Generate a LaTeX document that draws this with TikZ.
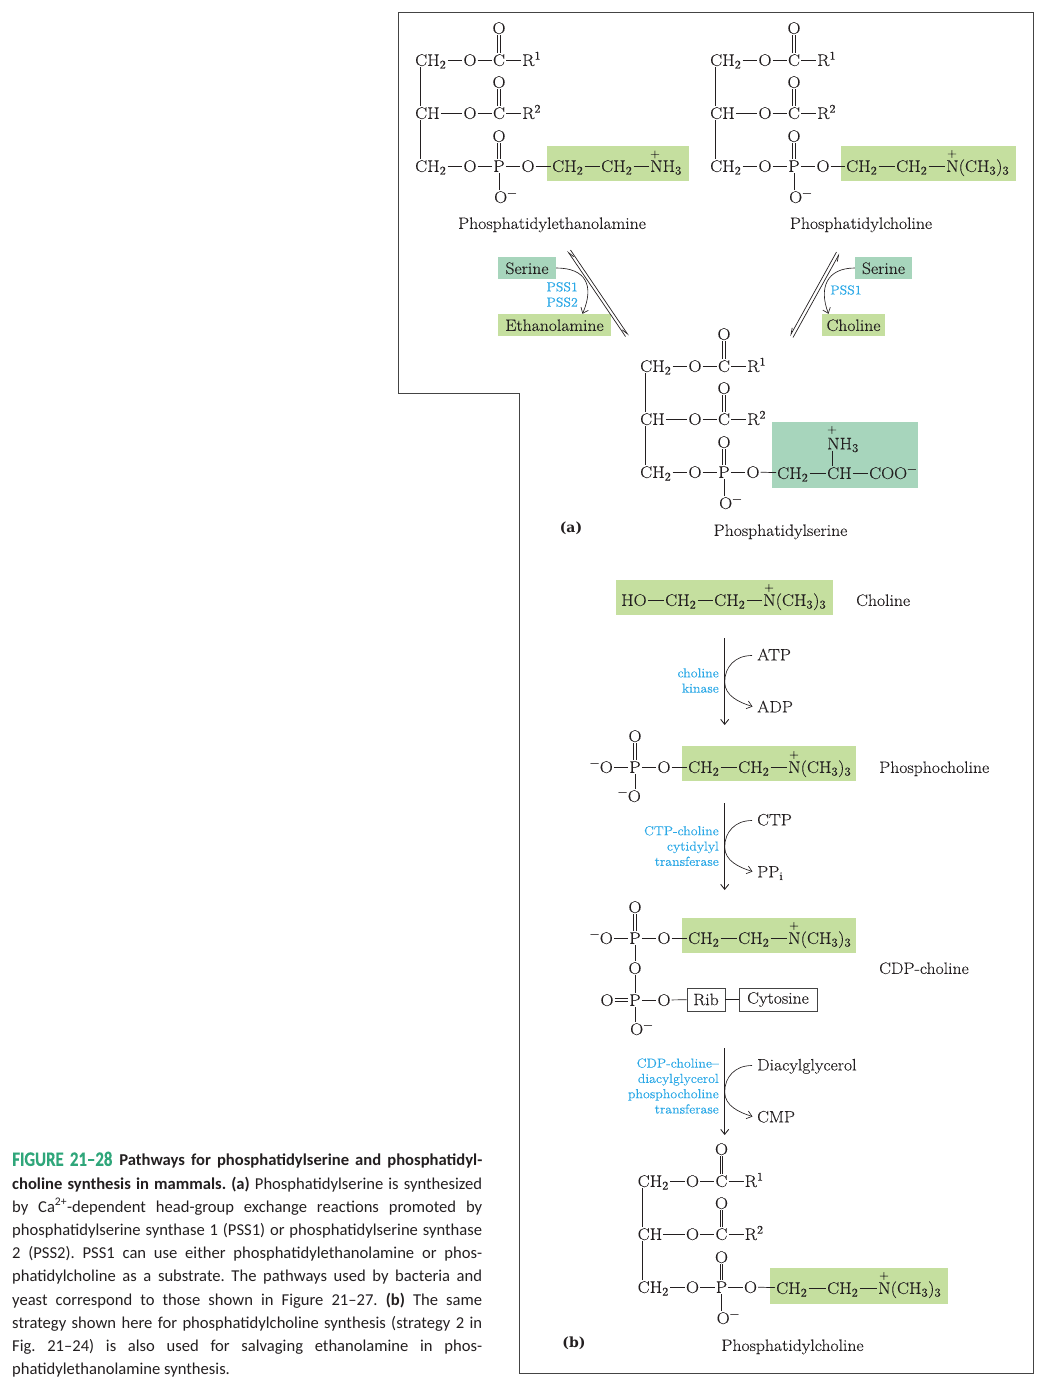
\documentclass[tikz,border=0pt]{standalone}
\usepackage{fontspec}
\usepackage{tikz}
\usetikzlibrary{arrows.meta}
\newfontfamily\chemfont[FakeStretch=1.07,FakeBold=0.22]{Latin Modern Roman}
\newfontfamily\partfont{DejaVu Serif}
\newfontfamily\capfont{Carlito}
\newfontfamily\figfont[FakeStretch=0.82,FakeBold=0.4]{Carlito}
\definecolor{ink}{HTML}{231F20}
\definecolor{headgreen}{HTML}{C5DF9F}
\definecolor{headteal}{HTML}{A7D5BC}
\definecolor{enzblue}{HTML}{2BA8E6}
\definecolor{figgreen}{HTML}{2FA67A}
\definecolor{framegray}{HTML}{444444}
\newcommand{\subs}[1]{\textsubscript{#1}}
\newcommand{\sups}[1]{\textsuperscript{#1}}

% double bond between an atom and the oxygen above it
\newcommand{\upbond}[2]{
\draw[bond] ([xshift=-1.3pt]#1.north) -- ([xshift=-1.3pt]#2.south);
\draw[bond] ([xshift=1.3pt]#1.north) -- ([xshift=1.3pt]#2.south);
}

% glycerol backbone with two acyl chains and the phosphate
\newcommand{\lipidcore}[3]{
\begin{scope}[shift={(#2,#3)}]
\node[atom,anchor=west] (#1ca) at (-1,0) {CH\subs{2}};
\node[atom] (#1oa) at (55,0) {O};
\node[atom] (#1ea) at (84,0) {C};
\node[atom] (#1ka) at (84,-32) {O};
\node[atom,anchor=west] (#1ra) at (106,0) {R\sups{1}};
\node[atom,anchor=west] (#1cb) at (-1,53) {CH};
\node[atom] (#1ob) at (55,53) {O};
\node[atom] (#1eb) at (84,53) {C};
\node[atom] (#1kb) at (84,22) {O};
\node[atom,anchor=west] (#1rb) at (106,53) {R\sups{2}};
\node[atom,anchor=west] (#1cc) at (-1,106) {CH\subs{2}};
\node[atom] (#1oc) at (55,106) {O};
\node[atom] (#1pc) at (84,106) {P};
\node[atom] (#1kc) at (84,76) {O};
\node[atom] (#1od) at (113,106) {O};
\node[atom,anchor=west] (#1om) at (78,137) {O\sups{\textminus}};
\end{scope}
\draw[bond] ([xshift=6pt]#1ca.south west) -- ([xshift=6pt]#1cb.north west);
\draw[bond] ([xshift=6pt]#1cb.south west) -- ([xshift=6pt]#1cc.north west);
\draw[bond] (#1ca) -- (#1oa);
\draw[bond] (#1oa) -- (#1ea);
\draw[bond] (#1ea) -- (#1ra);
\draw[bond] (#1cb) -- (#1ob);
\draw[bond] (#1ob) -- (#1eb);
\draw[bond] (#1eb) -- (#1rb);
\draw[bond] (#1cc) -- (#1oc);
\draw[bond] (#1oc) -- (#1pc);
\draw[bond] (#1pc) -- (#1od);
\draw[bond] (#1pc.south) -- (#1om.north -| #1pc);
\upbond{#1ea}{#1ka}
\upbond{#1eb}{#1kb}
\upbond{#1pc}{#1kc}
}

% CH2-CH2-N(CH3)3 chain
\newcommand{\cholinechain}[4]{
\node[atom,anchor=west] (#1a) at (#2,#3) {CH\subs{2}};
\node[atom,anchor=west] (#1b) at (#2+#4,#3) {CH\subs{2}};
\node[atom,anchor=west] (#1n) at (#2+2*#4,#3) {N(CH\subs{3})\subs{3}};
\node[plusmark] (#1q) at (#2+2*#4+7,#3-12) {+};
\draw[bond] (#1a) -- (#1b);
\draw[bond] (#1b) -- (#1n);
}

% free phosphate on the left of a chain
\newcommand{\phosphoryl}[2]{
\node[atom,anchor=east] (#1ol) at (614,#2) {\sups{\textminus}O};
\node[atom] (#1p) at (635,#2) {P};
\node[atom] (#1ok) at (635,#2-31) {O};
\node[atom] (#1or) at (664,#2) {O};
\draw[bond] (#1ol) -- (#1p);
\draw[bond] (#1p) -- (#1or);
\draw[bond] (#1or) -- (#1a);
\upbond{#1p}{#1ok}
}

% reaction arrow with a side substrate and a side product
\newcommand{\sidearrow}[4]{
\coordinate (#1s) at (724.7,#2);
\coordinate (#1e) at (724.7,#2+87);
\coordinate (#1m) at (724.7,#2+44);
\node[plainname,anchor=west] (#1i) at (756,#2+16.5) {#3};
\node[plainname,anchor=west] (#1o) at (756,#2+68.5) {#4};
\draw[arrowline] (#1s) -- (#1e);
\draw[sideline] ([xshift=-4pt,yshift=-1pt]#1i.west) .. controls +(-17,0) and +(0,-15) .. (#1m)
    .. controls +(0,14) and +(-13,-4) .. ([xshift=-3.5pt]#1o.west);
}

\begin{document}
\begin{tikzpicture}[x=1pt,y=-1pt,ink]
\tikzstyle{atom} = [font=\chemfont\fontsize{16.8}{20}\selectfont,text height=11.8pt,text depth=0pt,inner sep=1pt,text=ink]
\tikzstyle{plusmark} = [font=\chemfont\fontsize{12}{12}\selectfont,inner sep=0pt,text=ink]
\tikzstyle{plainname} = [font=\chemfont\fontsize{16.5}{20}\selectfont,text height=11.8pt,text depth=0pt,inner sep=1pt,text=ink]
\tikzstyle{enzyme} = [font=\chemfont\fontsize{13}{15.3}\selectfont,text=enzblue,align=right,inner sep=0pt]
\tikzstyle{groupbox} = [font=\chemfont\fontsize{16.5}{20}\selectfont,text height=11.8pt,text depth=0pt,inner sep=0pt,text=ink]
\tikzstyle{partname} = [font=\partfont\bfseries\fontsize{14}{20}\selectfont,inner sep=0pt,text=ink]
\tikzstyle{bond} = [line width=0.7pt,draw=ink]
\tikzstyle{arrowline} = [line width=0.85pt,draw=ink,-{Straight Barb[length=5pt,width=8pt]}]
\tikzstyle{sideline} = [line width=0.65pt,draw=ink,-{Straight Barb[length=5pt,width=8pt]}]
\tikzstyle{harpoon} = [line width=0.7pt,draw=ink,-{Straight Barb[right,length=6pt,width=4pt]}]
\tikzstyle{ribbox} = [draw=framegray,line width=0.8pt,fill=white,minimum height=23pt,inner sep=0pt,font=\chemfont\fontsize{16.5}{20}\selectfont,text=ink]
\useasboundingbox (0,0) rectangle (1045,1390);

%frame of both panels
\draw[framegray,line width=0.9pt] (398,12) -- (1033,12) -- (1033,1373) -- (519,1373) -- (519,393) -- (398,393) -- cycle;

%head group fills
\fill[headgreen] (547,146) rectangle (689,181);
\fill[headgreen] (841,146) rectangle (1016,181);
\fill[headteal] (772,422) rectangle (918,488);
\fill[headgreen] (616,580) rectangle (833,615);
\fill[headgreen] (682,746) rectangle (856,781);
\fill[headgreen] (682,918) rectangle (856,953);
\fill[headgreen] (770,1268) rectangle (948,1304);

%phosphatidylethanolamine
\lipidcore{pe}{415}{60}
\node[atom,anchor=west] (pea) at (551,166) {CH\subs{2}};
\node[atom,anchor=west] (peb) at (600,166) {CH\subs{2}};
\node[atom,anchor=west] (pen) at (649,166) {NH\subs{3}};
\node[plusmark] (peq) at (655,154.5) {+};
\draw[bond] (peod) -- (pea);
\draw[bond] (pea) -- (peb);
\draw[bond] (peb) -- (pen);
\node[plainname] (pename) at (552,223) {Phosphatidylethanolamine};

%phosphatidylcholine, top
\lipidcore{pc}{710}{60}
\cholinechain{pch}{845}{166}{50}
\draw[bond] (pcod) -- (pcha);
\node[plainname] (pcname) at (861,223) {Phosphatidylcholine};

%exchange reactions
\node[groupbox,fill=headteal,minimum width=58pt,minimum height=22pt] (serl) at (527,268) {Serine};
\node[groupbox,fill=headgreen,minimum width=113pt,minimum height=22pt] (etn) at (554.5,325) {Ethanolamine};
\node[groupbox,fill=headteal,minimum width=57pt,minimum height=22pt] (serr) at (883.5,268) {Serine};
\node[groupbox,fill=headgreen,minimum width=63pt,minimum height=22pt] (cho) at (853.5,325) {Choline};
\coordinate (la) at (567.5,251);
\coordinate (lb) at (625.5,336.5);
\coordinate (lc) at (570.5,250);
\coordinate (ld) at (628.5,335.5);
\coordinate (ra) at (836.5,252);
\coordinate (rb) at (790,336);
\coordinate (rc) at (839.5,253.5);
\coordinate (rd) at (793,337.5);
\draw[harpoon] (lb) -- (la);
\draw[harpoon] (lc) -- (ld);
\draw[harpoon] (rd) -- (rc);
\draw[harpoon] (ra) -- (rb);
\draw[sideline] (serl.east) .. controls +(30,0) and +(12,-28) .. ([xshift=28pt]etn.north);
\draw[sideline] (serr.west) .. controls +(-28,0) and +(-10,-26) .. ([xshift=-25pt]cho.north);
\node[enzyme,anchor=east] (pssl) at (578,294.5) {PSS1\\PSS2};
\node[enzyme] (pssr) at (846,290) {PSS1};

%phosphatidylserine
\lipidcore{ps}{640}{366}
\node[atom,anchor=west] (psa) at (776,473) {CH\subs{2}};
\node[atom,anchor=west] (psb) at (826,473) {CH};
\node[atom,anchor=west] (psc) at (868,473) {COO\sups{\textminus}};
\node[atom,anchor=west] (psn) at (826,443.5) {NH\subs{3}};
\node[plusmark] (psq) at (832,430) {+};
\draw[bond] (psod) -- (psa);
\draw[bond] (psa) -- (psb);
\draw[bond] (psb) -- (psc);
\draw[bond] ([xshift=6pt]psn.south west) -- ([xshift=6pt]psb.north west);
\node[plainname] (psname) at (780.5,530) {Phosphatidylserine};
\node[partname] (parta) at (571,528) {(a)};

%choline
\node[atom,anchor=west] (hoh) at (620,600) {HO};
\cholinechain{ch}{664}{600}{49}
\draw[bond] (hoh) -- (cha);
\node[plainname,anchor=west] (chname) at (855,600) {Choline};

\sidearrow{ka}{638}{ATP}{ADP}
\node[enzyme,anchor=east] (kaz) at (719,680.5) {choline\\kinase};

%phosphocholine
\cholinechain{pk}{687}{767}{50}
\phosphoryl{pk}{767}
\node[atom,anchor=east] (pkom) at (642,796) {\sups{\textminus}O};
\draw[bond] (pkp.south) -- (pkom.north -| pkp);
\node[plainname,anchor=west] (pkname) at (878,767) {Phosphocholine};

\sidearrow{ct}{803}{CTP}{PP\subs{i}}
\node[enzyme,anchor=east] (ctz) at (719,846) {CTP-choline\\cytidylyl\\transferase};

%CDP-choline
\cholinechain{cd}{687}{938}{50}
\phosphoryl{cd}{938}
\node[atom] (cdob) at (635,968) {O};
\node[atom] (cdo) at (607,1000) {O};
\node[atom] (cdq) at (635,1000) {P};
\node[atom] (cdr) at (664,1000) {O};
\node[atom,anchor=west] (cdm) at (629,1029) {O\sups{\textminus}};
\node[ribbox,minimum width=38pt] (rib) at (706,999.5) {Rib};
\node[ribbox,minimum width=78pt] (cyt) at (778,999.5) {Cytosine};
\draw[bond] (cdp) -- (cdob);
\draw[bond] (cdob) -- (cdq);
\draw[bond] ([yshift=-1.3pt]cdo.east) -- ([yshift=-1.3pt]cdq.west);
\draw[bond] ([yshift=1.3pt]cdo.east) -- ([yshift=1.3pt]cdq.west);
\draw[bond] (cdq) -- (cdr);
\draw[bond] (cdr) -- (rib);
\draw[bond] (rib) -- (cyt);
\draw[bond] (cdq.south) -- (cdm.north -| cdq);
\node[plainname,anchor=west] (cdname) at (878,968) {CDP-choline};

\sidearrow{dg}{1048}{Diacylglycerol}{CMP}
\node[enzyme,anchor=east] (dgz) at (719,1086) {CDP-choline–\\diacylglycerol\\phosphocholine\\transferase};

%phosphatidylcholine, bottom
\lipidcore{pd}{637.5}{1181}
\cholinechain{pdh}{775}{1288}{51}
\draw[bond] (pdod) -- (pdha);
\node[plainname] (pdname) at (792.5,1345) {Phosphatidylcholine};
\node[partname] (partb) at (574,1343) {(b)};

%legend text
\node[anchor=north west,text width=470pt,align=justify,inner sep=0pt,text=ink,font=\capfont\frenchspacing\fontsize{16.6}{23.2}\selectfont] (legend) at (12,1151.5) {%
{\figfont\bfseries\fontsize{20.5}{23.2}\selectfont\color{figgreen}FIGURE 21–28}\hspace{7pt}\textbf{Pathways for phosphatidylserine and phosphatidyl-}\linebreak
\textbf{choline synthesis in mammals. (a)} Phosphatidylserine is synthesized\linebreak
by Ca\textsuperscript{2+}-dependent head-group exchange reactions promoted by\linebreak
phosphatidylserine synthase 1 (PSS1) or phosphatidylserine synthase\linebreak
2 (PSS2). PSS1 can use either phosphatidylethanolamine or phos-\linebreak
phatidylcholine as a substrate. The pathways used by bacteria and\linebreak
yeast correspond to those shown in Figure 21–27. \textbf{(b)} The same\linebreak
strategy shown here for phosphatidylcholine synthesis (strategy 2 in\linebreak
Fig. 21–24) is also used for salvaging ethanolamine in phos-\linebreak
phatidylethanolamine synthesis.};
\end{tikzpicture}
\end{document}
